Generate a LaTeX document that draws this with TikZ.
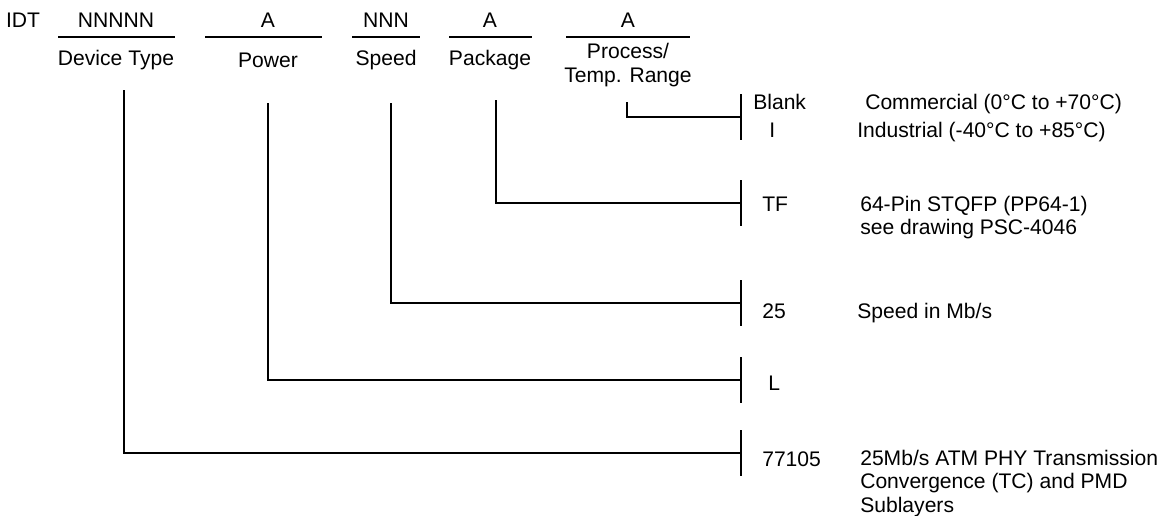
\documentclass[tikz,border=0pt]{standalone}
\usepackage{fontspec}
\setmainfont{Liberation Sans}
\usetikzlibrary{positioning}

\tikzset{
  txt/.style={font=\fontsize{15}{16.7}\selectfont, inner sep=0pt},
  code/.style={txt, anchor=base west},
  desc/.style={txt, anchor=base west, align=left},
  lead/.style={line width=1.3pt},
}

\begin{document}
\begin{tikzpicture}[x=0.025cm,y=-0.025cm]
\useasboundingbox (0,0) rectangle (1160,515);

\node (idt) at (23,20) [txt] {IDT};

\node (f1) at (116,20) [txt] {NNNNN};
\node (f2) at (268,20) [txt] {A};
\node (f3) at (386,20) [txt] {NNN};
\node (f4) at (490,20) [txt] {A};
\node (f5) at (628,20) [txt] {A};

\draw[lead] (58,37) -- (175,37);
\draw[lead] (205,37) -- (322,37);
\draw[lead] (352,37) -- (420,37);
\draw[lead] (449,37) -- (532,37);
\draw[lead] (566,37) -- (690,37);

\node (l1) at (116,60) [txt] {Device Type};
\node (l2) at (268,60) [txt] {Power};
\node (l3) at (386,60) [txt] {Speed};
\node (l4) at (490,60) [txt] {Package};
\node (l5) at (628,65) [txt, align=center] {Process/\\Temp. Range};

\coordinate (s1) at (124,90);
\coordinate (s2) at (268,103);
\coordinate (s3) at (391,103);
\coordinate (s4) at (496,100);
\coordinate (s5) at (627,102);

\coordinate (e1) at (741,453);
\coordinate (e2) at (741,380);
\coordinate (e3) at (741,303);
\coordinate (e4) at (741,203);
\coordinate (e5) at (741,117);

\foreach \i in {1,...,5} {
\draw[lead] (s\i) |- (e\i);
\draw[lead] (e\i) ++(0,-23) -- ++(0,46);
};

\node (k5a) at (753,109) [code] {Blank};
\node (k5b) at (769,137) [code] {I};
\node (k4) at (762,211) [code] {TF};
\node (k3) at (762,318) [code] {25};
\node (k2) at (768,390) [code] {L};
\node (k1) at (762,466) [code] {77105};

\node (t5a) at (865,109) [desc] {Commercial (0°C to +70°C)};
\node (t5b) at (857,137) [desc] {Industrial (-40°C to +85°C)};
\node (t4) at (860,234.5) [desc] {64-Pin STQFP (PP64-1)\\see drawing PSC-4046};
\node (t3) at (857,318) [desc] {Speed in Mb/s};
\node (t1) at (860,512) [desc] {25Mb/s ATM PHY Transmission\\Convergence (TC) and PMD\\Sublayers};
\end{tikzpicture}
\end{document}
